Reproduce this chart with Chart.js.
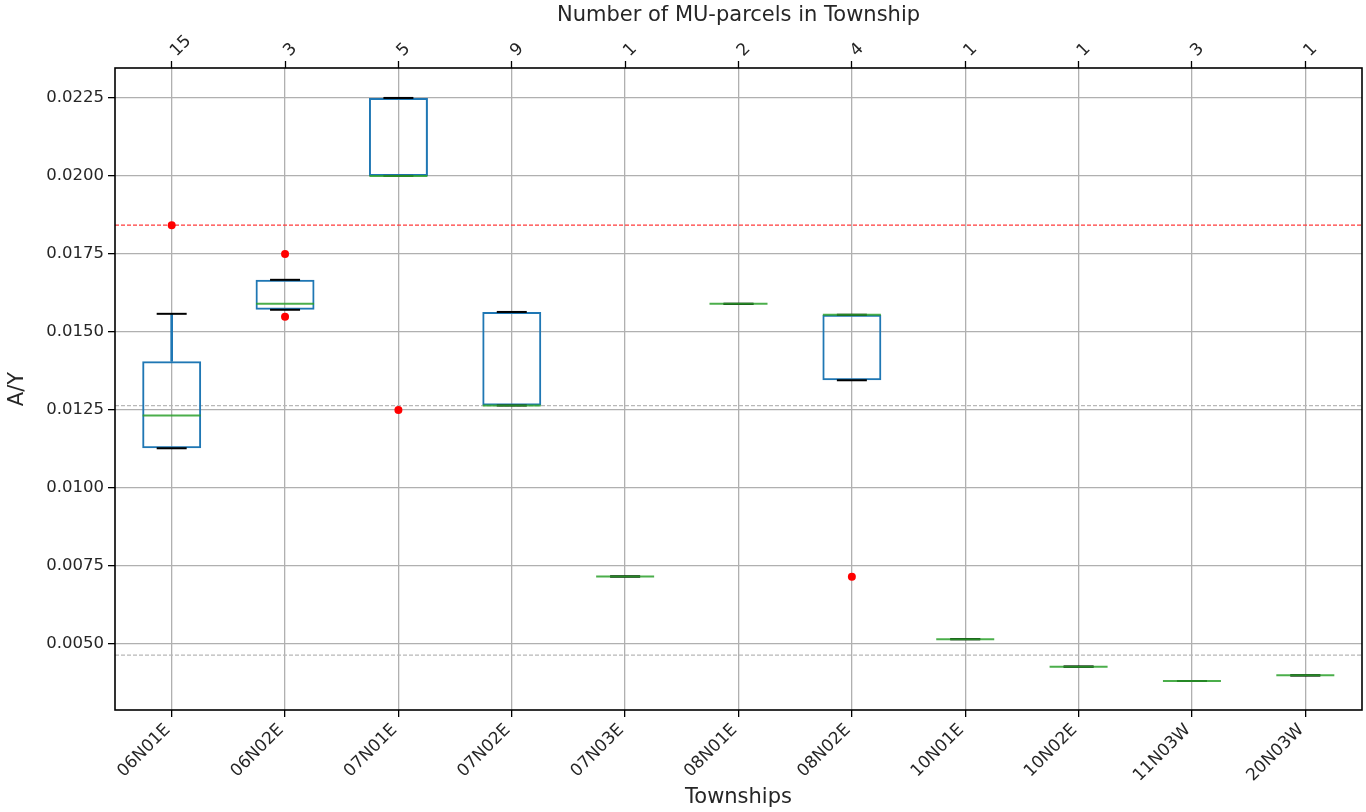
<!DOCTYPE html>
<html>
<head>
<meta charset="utf-8">
<title>A/Y by Township</title>
<script src="https://cdn.jsdelivr.net/npm/chart.js@4.4.1/dist/chart.umd.min.js"></script>
<style>
  html, body { margin: 0; padding: 0; background: #fff; }
</style>
</head>
<body>
<canvas id="chart" width="1366" height="812"></canvas>
<script>
(() => {
  'use strict';

  // ── Data ──────────────────────────────────────────────────
  const townships = ['06N01E', '06N02E', '07N01E', '07N02E', '07N03E', '08N01E',
                     '08N02E', '10N01E', '10N02E', '11N03W', '20N03W'];
  const parcelCounts = [15, 3, 5, 9, 1, 2, 4, 1, 1, 3, 1];

  const q1          = [0.01127, 0.01571, 0.02000, 0.01264, 0.00716, 0.01590, 0.01345, 0.00515, 0.00427, 0.00381, 0.00399];
  const q3          = [0.01406, 0.01667, 0.02250, 0.01564, 0.00716, 0.01590, 0.01555, 0.00515, 0.00427, 0.00381, 0.00399];
  const medians     = [0.01232, 0.01590, 0.02000, 0.01264, 0.00716, 0.01590, 0.01555, 0.00515, 0.00427, 0.00381, 0.00399];
  const whiskerLow  = [0.01127, 0.01571, 0.02000, 0.01264, 0.00716, 0.01590, 0.01345, 0.00515, 0.00427, 0.00381, 0.00399];
  const whiskerHigh = [0.01558, 0.01667, 0.02250, 0.01564, 0.00716, 0.01590, 0.01555, 0.00515, 0.00427, 0.00381, 0.00399];

  const outliers = [
    { x: '06N01E', y: 0.01842 },
    { x: '06N02E', y: 0.01750 },
    { x: '06N02E', y: 0.01549 },
    { x: '07N01E', y: 0.01250 },
    { x: '08N02E', y: 0.00715 },
  ];

  const refRed = [0.01842];
  const refGray = [0.01264, 0.00464];

  const yTicks = [0.0050, 0.0075, 0.0100, 0.0125, 0.0150, 0.0175, 0.0200, 0.0225];
  const yMin = 0.00288;
  const yMax = 0.02346;

  // ── Styles ────────────────────────────────────────────────
  const FONT = 'DejaVu Sans';
  const TEXT = '#262626';
  const BLUE = '#1f77b4';
  const GRID = '#b0b0b0';

  // reference lines + axes frame
  const frameAndRefs = {
    id: 'frameAndRefs',
    beforeDatasetsDraw(chart) {
      const { ctx, chartArea: a, scales: { y } } = chart;
      ctx.save();
      ctx.lineWidth = 1.2;
      const hline = (v, color) => {
        const py = y.getPixelForValue(v);
        ctx.strokeStyle = color;
        ctx.setLineDash([4, 2]);
        ctx.beginPath();
        ctx.moveTo(a.left, py);
        ctx.lineTo(a.right, py);
        ctx.stroke();
      };
      refGray.forEach(v => hline(v, '#b8b8b8'));
      refRed.forEach(v => hline(v, '#ff3b3b'));
      ctx.restore();
    },
    afterDraw(chart) {
      const { ctx, chartArea: a } = chart;
      ctx.save();
      ctx.strokeStyle = '#000';
      ctx.lineWidth = 1.6;
      ctx.strokeRect(a.left, a.top, a.right - a.left, a.bottom - a.top);
      ctx.restore();
    },
  };

  const markDefaults = { type: 'line', showLine: false, pointHoverRadius: 0 };

  new Chart(document.getElementById('chart'), {
    type: 'bar',
    data: {
      labels: townships,
      datasets: [
        {
          data: townships.map((_, i) => [q1[i], q3[i]]),
          backgroundColor: 'transparent',
          borderColor: BLUE,
          borderWidth: 2,
          borderSkipped: false,
          grouped: false,
          barPercentage: 0.52,
          categoryPercentage: 1,
          order: 3,
        },
        {
          data: townships.map((_, i) => [q3[i], whiskerHigh[i]]),
          backgroundColor: BLUE,
          barThickness: 2,
          grouped: false,
          order: 3,
        },
        {
          data: townships.map((_, i) => [whiskerLow[i], q1[i]]),
          backgroundColor: BLUE,
          barThickness: 2,
          grouped: false,
          order: 3,
        },
        {
          ...markDefaults,
          data: whiskerHigh,
          pointStyle: 'line',
          pointRadius: 15,
          pointBorderColor: '#000',
          pointBorderWidth: 2,
          order: 2,
        },
        {
          ...markDefaults,
          data: whiskerLow,
          pointStyle: 'line',
          pointRadius: 15,
          pointBorderColor: '#000',
          pointBorderWidth: 2,
          order: 2,
        },
        {
          ...markDefaults,
          data: medians,
          pointStyle: 'line',
          pointRadius: 29,
          pointBorderColor: 'rgba(44,160,44,0.85)',
          pointBorderWidth: 2,
          order: 1,
        },
        {
          ...markDefaults,
          data: outliers,
          pointStyle: 'circle',
          pointRadius: 4,
          pointBackgroundColor: '#ff0000',
          pointBorderWidth: 0,
          order: 0,
        },
      ],
    },
    options: {
      responsive: false,
      animation: false,
      layout: { autoPadding: false, padding: { left: 0, right: 4, top: 0, bottom: 0 } },
      plugins: {
        legend: { display: false },
        tooltip: { enabled: false },
      },
      scales: {
        x: {
          type: 'category',
          position: 'bottom',
          offset: true,
          grid: { offset: false, color: GRID, lineWidth: 1.3, tickColor: '#000', tickLength: 7, tickWidth: 1.3 },
          border: { display: false },
          ticks: { font: { family: FONT, size: 17 }, color: TEXT, minRotation: 45, maxRotation: 45, autoSkip: false, padding: 3, labelOffset: -4 },
          title: { display: true, text: 'Townships', font: { family: FONT, size: 21 }, color: TEXT, padding: { top: 0, bottom: 2 } },
          afterFit(s) { s.height = 102; s.paddingLeft = 0; s.paddingRight = 0; },
        },
        x2: {
          type: 'category',
          position: 'top',
          labels: parcelCounts.map(String),
          offset: true,
          grid: { offset: false, drawOnChartArea: false, tickColor: '#000', tickLength: 7, tickWidth: 1.3 },
          border: { display: false },
          ticks: { font: { family: FONT, size: 17 }, color: TEXT, minRotation: 45, maxRotation: 45, autoSkip: false, padding: 0, labelOffset: 16 },
          title: { display: true, text: 'Number of MU-parcels in Township', font: { family: FONT, size: 21 }, color: TEXT, padding: { top: 3, bottom: 0 } },
          afterFit(s) { s.height = 68; s.paddingLeft = 0; s.paddingRight = 0; },
        },
        y: {
          min: yMin,
          max: yMax,
          grid: { color: GRID, lineWidth: 1.3, tickColor: '#000', tickLength: 7, tickWidth: 1.3 },
          border: { display: false },
          afterBuildTicks(s) { s.ticks = yTicks.map(v => ({ value: v })); },
          ticks: { font: { family: FONT, size: 16.5 }, color: TEXT, padding: 4, callback: v => v.toFixed(4) },
          title: { display: true, text: 'A/Y', font: { family: FONT, size: 21 }, color: TEXT, padding: { top: 5, bottom: 0 } },
          afterFit(s) { s.width = 115; },
        },
      },
    },
    plugins: [frameAndRefs],
  });
})();
</script>
</body>
</html>
